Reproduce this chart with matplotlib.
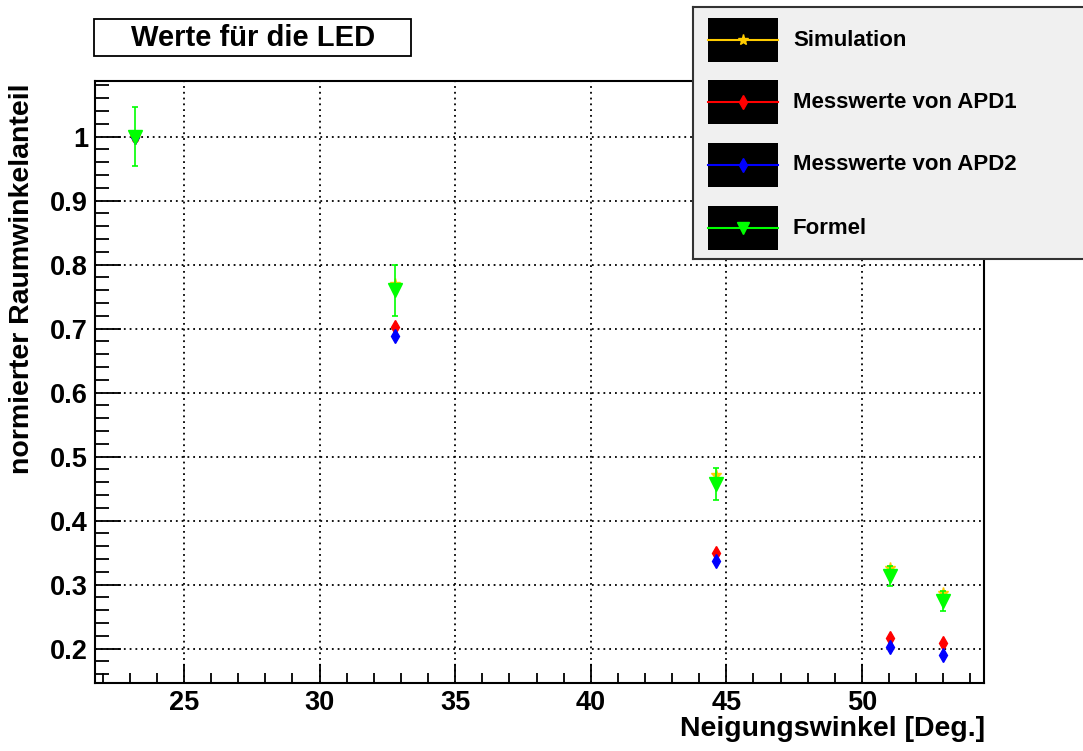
import numpy as np
import matplotlib.pyplot as plt
from matplotlib.patches import Rectangle
from matplotlib.ticker import MultipleLocator, FuncFormatter

plt.rcParams['font.family'] = ['Liberation Sans', 'DejaVu Sans']
plt.rcParams['font.weight'] = 'bold'

# Messdaten
winkel = [23.2, 32.8, 44.6, 51.05, 53.0]
simulation = [1.0, 0.770, 0.471, 0.326, 0.2865]
apd1 = [1.0, 0.703, 0.350, 0.217, 0.209]
apd2 = [1.0, 0.689, 0.3365, 0.202, 0.190]
formel = [1.0, 0.760, 0.458, 0.3136, 0.2745]
formel_err = [0.046, 0.040, 0.025, 0.016, 0.015]

labels = ['Simulation', 'Messwerte von APD1', 'Messwerte von APD2', 'Formel']
farben = ['#ffcc00', '#ff0000', '#0000ff', '#00ff00']
marker = ['*', 'd', 'd', 'v']

W, H = 1083, 751
fig = plt.figure(figsize=(W / 100, H / 100), dpi=100)
ax = fig.add_axes([95 / W, 1 - 683 / H, (984 - 95) / W, (683 - 80.7) / H])

ax.plot(winkel, simulation, ls='none', marker='*', ms=8, color=farben[0], zorder=3)
ax.plot(winkel, apd1, ls='none', marker='d', ms=7, color=farben[1], zorder=4)
ax.plot(winkel, apd2, ls='none', marker='d', ms=7, color=farben[2], zorder=5)
ax.errorbar(winkel, formel, yerr=formel_err, ls='none', marker='v', ms=9.5,
            color=farben[3], ecolor=farben[3], elinewidth=1.2, capsize=2.5,
            capthick=1.2, zorder=6)

ax.set_xlim(21.72, 54.5)
ax.set_ylim(0.1464, 1.0875)
ax.xaxis.set_major_locator(MultipleLocator(5))
ax.xaxis.set_minor_locator(MultipleLocator(1))
ax.yaxis.set_major_locator(MultipleLocator(0.1))
ax.yaxis.set_minor_locator(MultipleLocator(0.02))
ax.yaxis.set_major_formatter(FuncFormatter(lambda v, p: '%g' % round(v, 2)))
ax.tick_params(axis='x', which='major', direction='in', length=14, width=1.3,
               labelsize=19.5, pad=5)
ax.tick_params(axis='x', which='minor', direction='in', length=7, width=1.3)
ax.tick_params(axis='y', which='major', direction='in', length=19, width=1.3,
               labelsize=19.5, pad=5)
ax.tick_params(axis='y', which='minor', direction='in', length=10, width=1.3)
ax.grid(True, which='major', color='black', linestyle=(0, (1, 2.2)), linewidth=1.3)
for s in ax.spines.values():
    s.set_linewidth(1.5)

fig.text(985 / W, 1 - 716 / H, 'Neigungswinkel [Deg.]', ha='right', va='top',
         fontsize=20.5, fontweight='bold')
fig.text(22 / W, 1 - 83 / H, 'normierter Raumwinkelanteil', rotation=90,
         ha='center', va='top', fontsize=20.5, fontweight='bold')

# Titelbox
fig.patches.append(Rectangle((94 / W, 1 - 55.7 / H), (410.7 - 94) / W, (55.7 - 19.3) / H,
                             transform=fig.transFigure, facecolor='white',
                             edgecolor='black', linewidth=1.3))
fig.text(253 / W, 1 - 38.5 / H, 'Werte für die LED', ha='center', va='center',
         fontsize=21, fontweight='bold')

# Legende
lax = fig.add_axes([693 / W, 1 - 258.7 / H, (1100 - 693) / W, (258.7 - 7) / H])
lax.set_xlim(693, 1100)
lax.set_ylim(258.7, 7)
lax.set_facecolor('#f0f0f0')
lax.set_xticks([])
lax.set_yticks([])
for s in lax.spines.values():
    s.set_linewidth(1.5)
    s.set_color('#333333')
zentren = [40, 102, 165, 228]
groessen = [8, 7.6, 7.6, 9.3]
for lab, farbe, mk, yc, ms in zip(labels, farben, marker, zentren, groessen):
    lax.add_patch(Rectangle((708, yc - 22), 70, 44, facecolor='black', edgecolor='none'))
    lax.plot([708, 778], [yc, yc], color=farbe, lw=1.5)
    lax.plot([743], [yc], marker=mk, ms=ms, color=farbe, ls='none')
    lax.text(793, yc, lab, ha='left', va='center', fontsize=16, fontweight='bold')

fig.savefig('out.png', dpi=100)
